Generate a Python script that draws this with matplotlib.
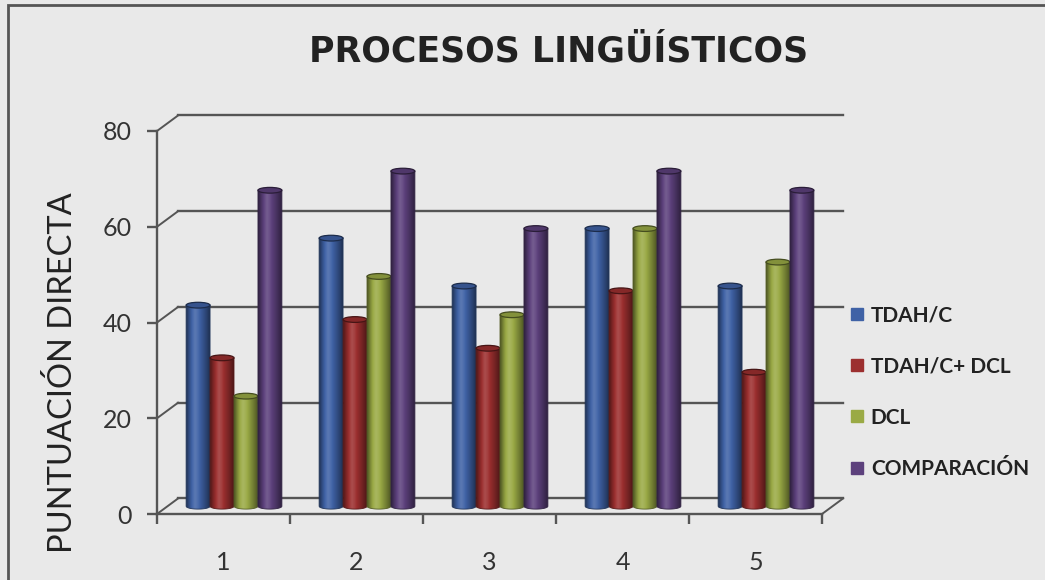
import numpy as np
import matplotlib
matplotlib.use("Agg")
import matplotlib.pyplot as plt
from matplotlib.patches import Ellipse, PathPatch, Rectangle
from matplotlib.path import Path
from matplotlib.lines import Line2D

# scores per process (1-5) for each group
categories = ["1", "2", "3", "4", "5"]
series_names = ["TDAH/C", "TDAH/C+ DCL", "DCL", "COMPARACIÓN"]
tdah_c = [42, 56, 46, 58, 46]
tdah_c_dcl = [31, 39, 33, 45, 28]
dcl = [23, 48, 40, 58, 51]
comparacion = [66, 70, 58, 70, 66]
y_ticks = [0, 20, 40, 60, 80]

series_values = [tdah_c, tdah_c_dcl, dcl, comparacion]
series_colors = ["#3f62a6", "#9c2f2f", "#9aaa45", "#5d417d"]

BG = "#e9e9e9"
GRID = "#555555"
DX, DY = 0.158, 3.24       # depth of the fake 3D box, in data units
BAR_W = 0.18
ELL_H = 0.6                # half height of the cylinder caps

fig = plt.figure(figsize=(10.45, 5.8), dpi=100, facecolor=BG)
ax = fig.add_axes([157 / 1045, 66 / 580, 665 / 1045, 383 / 580])
ax.set_facecolor("none")

# back wall gridlines and left wall diagonals
for v in y_ticks:
    ax.plot([DX, len(categories) + DX], [v + DY, v + DY], color=GRID, lw=1.7, clip_on=False, zorder=1)
    ax.plot([0, DX], [v, v + DY], color=GRID, lw=1.4, clip_on=False, zorder=1)
ax.plot([len(categories), len(categories) + DX], [0, DY], color=GRID, lw=1.4, clip_on=False, zorder=1)


def shade(color, f):
    rgb = np.array(matplotlib.colors.to_rgb(color))
    if f < 1:
        return rgb * f
    return rgb + (1 - rgb) * (f - 1)


def cylinder(x_left, value, color, z):
    y0 = DY / 2
    yt = value + DY / 2
    xc = x_left + BAR_W / 2
    t = np.linspace(np.pi, 2 * np.pi, 30)
    xs = list(xc + BAR_W / 2 * np.cos(t)) + [x_left + BAR_W, x_left, x_left]
    ys = list(y0 + ELL_H * np.sin(t)) + [yt, yt, y0]
    body = PathPatch(Path(np.column_stack([xs, ys])), facecolor="none",
                     edgecolor=shade(color, 0.55), lw=0.6, zorder=z + 0.1)
    ax.add_patch(body)

    prof = np.array([0.5, 0.78, 1.02, 1.15, 1.07, 0.93, 0.8, 0.66, 0.5])
    pos = np.linspace(0, 1, len(prof))
    xx = np.linspace(0, 1, 64)
    grad = np.array([shade(color, f) for f in np.interp(xx, pos, prof)])[None, :, :]
    im = ax.imshow(np.clip(grad, 0, 1), extent=[x_left, x_left + BAR_W, y0 - ELL_H, yt],
                   aspect="auto", interpolation="bicubic", zorder=z)
    im.set_clip_path(body)

    cap = Ellipse((xc, yt), BAR_W, 2 * ELL_H, facecolor=shade(color, 0.85),
                  edgecolor=shade(color, 0.45), lw=0.9, zorder=z + 0.2)
    ax.add_patch(cap)


z = 3
for c in range(len(categories)):
    start = c + 0.5 + DX / 2 - 2 * BAR_W
    for s, vals in enumerate(series_values):
        cylinder(start + s * BAR_W, vals[c], series_colors[s], z)
        z += 1

ax.set_xlim(0, len(categories))
ax.set_ylim(0, 80)

for side in ["top", "right"]:
    ax.spines[side].set_visible(False)
for side in ["left", "bottom"]:
    ax.spines[side].set_color(GRID)
    ax.spines[side].set_linewidth(1.7)

ax.set_yticks(y_ticks)
ax.set_yticklabels([str(v) for v in y_ticks], fontfamily="Lato", fontsize=18, color="#333333")
ax.tick_params(axis="y", direction="out", length=7, width=1.7, color=GRID, pad=11)
ax.set_xticks(range(len(categories) + 1))
ax.set_xticklabels([])
ax.tick_params(axis="x", which="major", direction="out", length=7, width=1.7, color=GRID)
ax.set_xticks([c + 0.5 for c in range(len(categories))], minor=True)
ax.set_xticklabels(categories, minor=True, fontfamily="Lato", fontsize=18, color="#333333")
ax.tick_params(axis="x", which="minor", length=0, pad=27)

fig.text(559 / 1045, 1 - 52 / 580, "PROCESOS LINGÜÍSTICOS", ha="center", va="center",
         fontfamily="DejaVu Sans", fontweight="bold", fontsize=25, color="#222222")
fig.text(63 / 1045, 1 - 373 / 580, "PUNTUACIÓN DIRECTA", ha="center", va="center", rotation=90,
         fontfamily="Lato", fontsize=23.5, color="#222222")

handles = [Line2D([], [], marker="s", linestyle="none", markersize=8,
                  markerfacecolor=col, markeredgecolor=col) for col in series_colors]
fig.legend(handles, series_names, loc="center left", bbox_to_anchor=(850 / 1045, 1 - 392 / 580),
           frameon=False, prop={"family": "Lato", "weight": "bold", "size": 15},
           labelspacing=1.5, handlelength=0.7, handletextpad=0.3, borderpad=0, borderaxespad=0,
           labelcolor="#222222")

# outer chart frame, running off the right and bottom edges
fig.add_artist(Rectangle((8 / 1045, -0.1), 1.2, 1 - 5 / 580 + 0.1, transform=fig.transFigure,
                         fill=False, edgecolor="#555555", lw=2))

fig.savefig("out.png", dpi=100, facecolor=BG)
